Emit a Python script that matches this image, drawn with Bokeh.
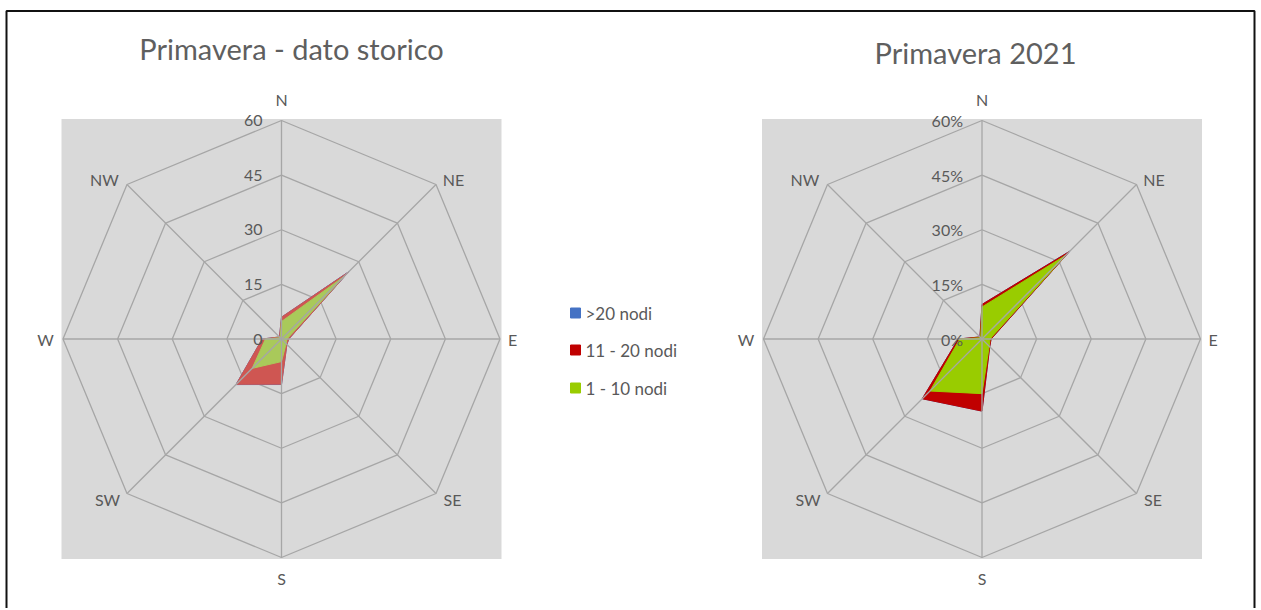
import math
from bokeh.plotting import figure
from bokeh.models import Range1d
from bokeh.core.properties import value
from bokeh.embed import file_html
from bokeh.resources import INLINE

# ---------------- data ----------------
directions = ["N", "NE", "E", "SE", "S", "SW", "W", "NW"]
series_names = [">20 nodi", "11 - 20 nodi", "1 - 10 nodi"]
tick_values = [0, 15, 30, 45, 60]
tick_labels_hist = ["0", "15", "30", "45", "60"]
tick_labels_2021 = ["0%", "15%", "30%", "45%", "60%"]
titles = ["Primavera - dato storico", "Primavera 2021"]

# frequency per speed band (%), per direction
hist_1_10 = [4.8, 24.3, 1.5, 1.8, 6.2, 11.4, 4.4, 0.5]
hist_11_20 = [1.2, 1.7, 0.5, 0.3, 6.2, 6.2, 0.9, 0.3]
hist_gt20 = [0.0, 0.2, 0.0, 0.0, 0.1, 0.1, 0.0, 0.0]

y2021_1_10 = [8.8, 32.5, 2.2, 2.8, 15.0, 20.2, 6.1, 0.5]
y2021_11_20 = [0.7, 1.5, 0.3, 0.2, 4.8, 3.0, 0.4, 0.3]
y2021_gt20 = [0.0, 0.2, 0.0, 0.0, 0.0, 0.0, 0.0, 0.0]

# ---------------- layout ----------------
W_PX, H_PX = 1258, 608
S = 218.5 / 60.0          # px per data unit
LCX_PAGE, CY_PAGE = 281.0, 338.5


def px(xp, yp):
    """canvas pixel -> data coords"""
    return ((xp - LCX_PAGE) / S, (CY_PAGE - yp) / S)


CX = [0.0, (981.5 - LCX_PAGE) / S]
CY = 0.0
RMAX = 60.0

x0, y1 = px(0, 0)
x1, y0 = px(W_PX, H_PX)

p = figure(width=W_PX, height=H_PX, x_range=Range1d(x0, x1), y_range=Range1d(y0, y1),
           output_backend="svg", toolbar_location=None, min_border=0)
p.axis.visible = False
p.grid.visible = False
p.outline_line_color = None
p.background_fill_color = "white"
p.border_fill_color = "white"

FONT = value("Lato")
TXT = "#595959"
GRID = "#A6A6A6"

angles = [math.radians(90 - 45 * i) for i in range(len(directions))]


def poly(cx, vals):
    xs = [cx + v * math.cos(a) for v, a in zip(vals, angles)]
    ys = [CY + v * math.sin(a) for v, a in zip(vals, angles)]
    return xs, ys


def cum(*bands):
    out, acc = [], [0.0] * len(bands[0])
    for b in bands:
        acc = [a + v for a, v in zip(acc, b)]
        out.append(acc)
    return out


charts = [
    dict(cx=CX[0], bands=(hist_1_10, hist_11_20, hist_gt20), ticks=tick_labels_hist,
         colors=("#A9C95A", "#CF5652", "#4472C4"), title=titles[0], title_pos=(291, 48)),
    dict(cx=CX[1], bands=(y2021_1_10, y2021_11_20, y2021_gt20), ticks=tick_labels_2021,
         colors=("#99CC00", "#C00000", "#4472C4"), title=titles[1], title_pos=(975, 52)),
]

label_off = [(0, -240), (172, -160), (231, 0), (171, 160), (0, 239), (-174, 160), (-236, 0), (-177, -160)]

for ch in charts:
    cx = ch["cx"]
    pad = 1.5 / S
    p.quad(left=cx - RMAX - pad, right=cx + RMAX + pad, bottom=CY - RMAX - pad, top=CY + RMAX + pad,
           fill_color="#D9D9D9", line_color=None)
    # rings
    for t in tick_values[1:]:
        xs, ys = poly(cx, [t] * len(directions))
        p.line(xs + [xs[0]], ys + [ys[0]], line_color=GRID, line_width=1.3)
    # stacked areas: >20 at back, then 11-20, then 1-10 on top
    green, red, blue = cum(*ch["bands"])
    for vals, col in ((blue, ch["colors"][2]), (red, ch["colors"][1]), (green, ch["colors"][0])):
        xs, ys = poly(cx, vals)
        p.patch(xs, ys, fill_color=col, line_color=col, line_width=1)
    # spokes
    for a in angles:
        p.line([cx, cx + RMAX * math.cos(a)], [CY, CY + RMAX * math.sin(a)], line_color=GRID, line_width=1.3)
    # value tick labels
    p.text(x=[cx - 19 / S] * len(tick_values), y=[CY + t for t in tick_values], text=ch["ticks"],
           text_font=FONT, text_font_size="16px", text_color=TXT, text_align="right", text_baseline="middle")
    # direction labels
    p.text(x=[cx + dx / S for dx, dy in label_off], y=[CY - dy / S for dx, dy in label_off], text=directions,
           text_font=FONT, text_font_size="16px", text_color=TXT, text_align="center", text_baseline="middle")
    # title
    tx, ty = px(*ch["title_pos"])
    p.text(x=[tx], y=[ty], text=[ch["title"]], text_font=FONT, text_font_size="29px", text_color="#5f5f5f",
           text_align="center", text_baseline="middle")

# legend
leg_colors = ["#4472C4", "#C00000", "#99CC00"]
leg_y_page = [312.5, 349.5, 387.5]
for name, col, yp in zip(series_names, leg_colors, leg_y_page):
    sx, sy = px(575, yp)
    p.scatter([sx], [sy], marker="square", size=10, fill_color=col, line_color=col)
    lx, ly = px(585, yp)
    p.text(x=[lx], y=[ly], text=[name], text_font=FONT, text_font_size="17px", text_color=TXT,
           text_align="left", text_baseline="middle")

# outer frame (top, left, right)
bx = [px(6, 0)[0], px(6, 0)[0], px(1254, 0)[0], px(1254, 0)[0]]
by = [px(0, 700)[1], px(0, 10.5)[1], px(0, 10.5)[1], px(0, 700)[1]]
p.line(bx, by, line_color="#111111", line_width=2)

open("out.html", "w").write(file_html(p, INLINE))
